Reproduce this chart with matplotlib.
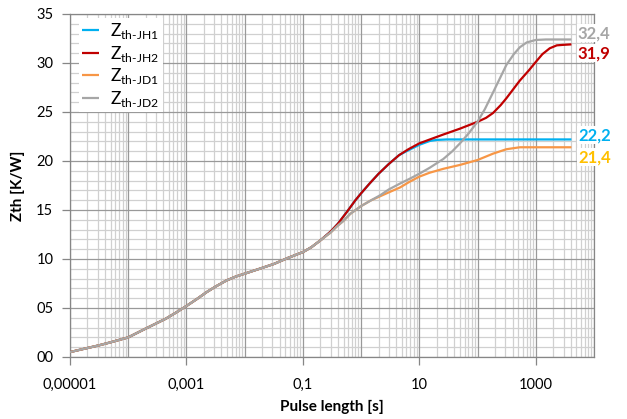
import numpy as np
import matplotlib.pyplot as plt
from matplotlib.ticker import FixedLocator, NullLocator

plt.rcParams['font.family'] = ['Lato', 'DejaVu Sans']
plt.rcParams['mathtext.fontset'] = 'custom'
plt.rcParams['mathtext.rm'] = 'Lato'

# общий участок кривых (до 0,2 с)
t_common = [1e-5, 3.2e-5, 5e-5, 1e-4, 2e-4, 4.4e-4, 6.5e-4, 1e-3, 1.5e-3, 2.2e-3, 3.2e-3,
            4.85e-3, 7e-3, 1e-2, 1.8e-2, 3.2e-2, 5.5e-2, 0.1, 0.14, 0.2]
z_common = [0.5, 1.2, 1.5, 2.0, 2.9, 3.9, 4.5, 5.2, 5.9, 6.6, 7.2,
            7.8, 8.2, 8.5, 9.0, 9.5, 10.1, 10.7, 11.2, 11.9]

# JH
t_jh = [0.3, 0.4, 0.57, 0.8, 1, 1.4, 2, 3, 4.5]
z_jh = [12.8, 13.6, 14.8, 16.0, 16.7, 17.7, 18.7, 19.7, 20.6]
t_jh1 = [6.5, 10, 15.2, 20, 30, 100, 1000, 4100]
z_jh1 = [21.1, 21.65, 22.05, 22.15, 22.2, 22.2, 22.2, 22.2]
t_jh2 = [6.5, 10, 15.2, 25.8, 50, 100, 140, 185, 250, 313, 420, 532, 750, 1000, 1300,
         1740, 2300, 2940, 4100]
z_jh2 = [21.2, 21.8, 22.2, 22.7, 23.3, 24.0, 24.4, 24.9, 25.7, 26.4, 27.4, 28.2, 29.2,
         30.1, 30.9, 31.5, 31.8, 31.85, 31.9]

# JD
t_jd = [0.3, 0.38, 0.5, 0.65, 1, 1.5]
z_jd = [12.7, 13.3, 13.9, 14.6, 15.4, 16.0]
t_jd1 = [2.12, 3, 4.67, 6.9, 10, 15, 25.8, 50, 100, 185, 313, 532, 1000, 4100]
z_jd1 = [16.4, 16.8, 17.3, 17.9, 18.4, 18.8, 19.2, 19.6, 20.1, 20.75, 21.2, 21.4, 21.4, 21.4]
t_jd2 = [2.12, 3, 4.67, 6.9, 10, 15, 25.8, 37, 50, 70, 100, 134, 185, 250, 313, 420, 532,
         700, 1000, 1500, 4100]
z_jd2 = [16.5, 17.1, 17.7, 18.2, 18.7, 19.3, 20.2, 21.0, 21.8, 22.8, 24.0, 25.3, 27.0,
         28.6, 29.8, 30.9, 31.6, 32.1, 32.35, 32.4, 32.4]

labels = [r'Z$_{\mathregular{th\text{-}JH1}}$', r'Z$_{\mathregular{th\text{-}JH2}}$',
          r'Z$_{\mathregular{th\text{-}JD1}}$', r'Z$_{\mathregular{th\text{-}JD2}}$']
colors = ['#00B0F0', '#C00000', '#F79646', '#A6A6A6']
end_values = [22.2, 31.9, 21.4, 32.4]
end_colors = ['#00B0F0', '#C00000', '#FFC000', '#A6A6A6']
end_offsets = [0.45, -0.9, -1.0, 0.65]

series = [
    (t_common + t_jh + t_jh1, z_common + z_jh + z_jh1),
    (t_common + t_jh + t_jh2, z_common + z_jh + z_jh2),
    (t_common + t_jd + t_jd1, z_common + z_jd + z_jd1),
    (t_common + t_jd + t_jd2, z_common + z_jd + z_jd2),
]

fig = plt.figure(figsize=(6.27, 4.19), dpi=100)
ax = fig.add_axes([0.1116, 0.148, 0.8357, 0.8186])
ax.set_xscale('log')
ax.set_xlim(1e-5, 1e4)
ax.set_ylim(0, 35)

# сетка
for d in range(-5, 5):
    ax.axvline(10.0 ** d, color='#999999', lw=0.9, zorder=1)
    if d < 4:
        for k in range(2, 10):
            ax.axvline(k * 10.0 ** d, color='#D0D0D0', lw=0.9, zorder=0)
for y in range(0, 36):
    if y % 5 == 0:
        ax.axhline(y, color='#999999', lw=0.9, zorder=1)
    else:
        ax.axhline(y, color='#D0D0D0', lw=0.9, zorder=0)

for (t, z), c, lab in zip(series, colors, labels):
    ax.plot(t, z, color=c, lw=1.6, label=lab, zorder=3,
            solid_joinstyle='round', solid_capstyle='butt')

for v, c, off in zip(end_values, end_colors, end_offsets):
    ax.text(5300, v + off, f'{v:.1f}'.replace('.', ','), color=c, fontsize=12,
            fontweight='bold', va='center', ha='left', clip_on=False, zorder=6,
            bbox=dict(facecolor='white', edgecolor='none', pad=0.6))

ax.xaxis.set_major_locator(FixedLocator([1e-5, 1e-3, 1e-1, 1e1, 1e3]))
ax.xaxis.set_minor_locator(NullLocator())
ax.set_xticklabels(['0,00001', '0,001', '0,1', '10', '1000'])
ax.set_yticks(range(0, 36, 5))
ax.set_yticklabels([f'{v:02d}' for v in range(0, 36, 5)])
ax.tick_params(axis='both', labelsize=10.5, color='#868686', length=6, width=0.9,
               labelcolor='#000000')
ax.tick_params(axis='y', pad=6)
ax.tick_params(axis='x', pad=9)

for s in ax.spines.values():
    s.set_color('#868686')
    s.set_linewidth(0.9)

ax.set_xlabel('Pulse length [s]', fontsize=11, fontweight='bold', labelpad=6)
ax.set_ylabel('Zth [K/W]', fontsize=11, fontweight='bold', labelpad=8)

leg = ax.legend(loc='upper left', bbox_to_anchor=(0.0, 1.015), fontsize=12.5,
                frameon=True, fancybox=False, edgecolor='none', facecolor='white',
                framealpha=1.0, handlelength=1.0, handletextpad=0.6, borderpad=0.2,
                labelspacing=0.15)
leg.set_zorder(5)

fig.savefig('out.png', dpi=100)
